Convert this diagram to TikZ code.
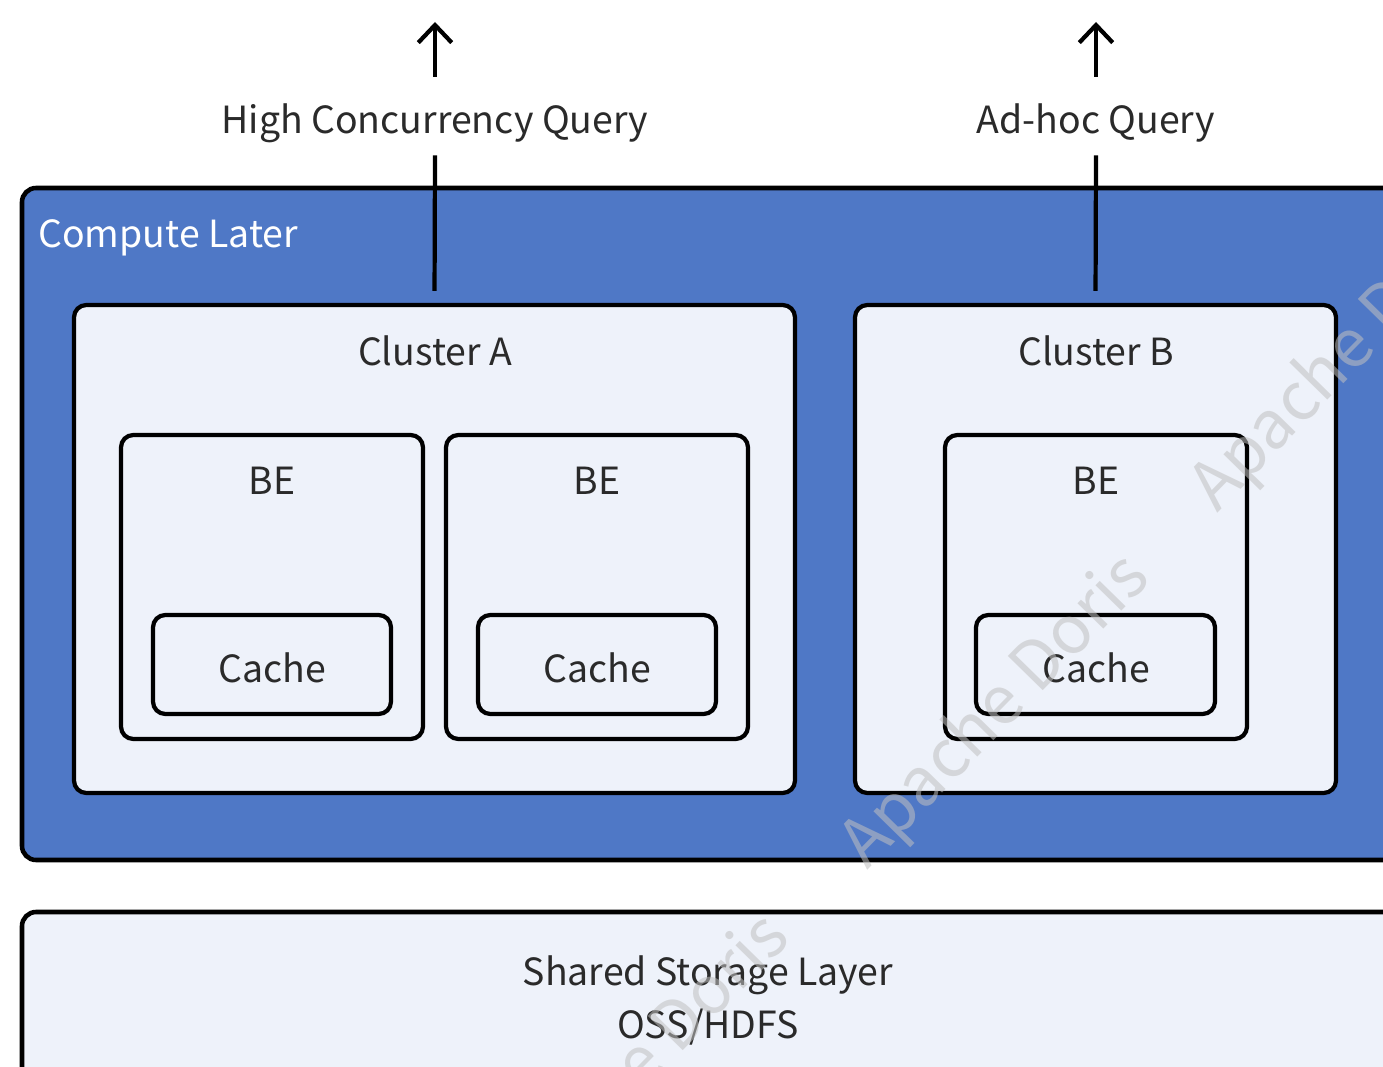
\documentclass[tikz,border=0pt]{standalone}
\usepackage{fontspec}
\setmainfont{Noto Sans CJK SC}
\usetikzlibrary{fit,arrows.meta}
\definecolor{computeblue}{HTML}{4F78C6}
\definecolor{paleblue}{HTML}{EEF2FA}
\definecolor{textgray}{HTML}{2A2A2A}
\definecolor{wmgray}{HTML}{C0C0C0}
\begin{document}
\begin{tikzpicture}[x=0.02cm,y=-0.02cm,
  outerbox/.style={draw=black, line width=2.6pt, rounded corners=8pt, inner sep=0pt},
  innerbox/.style={draw=black, line width=2.4pt, rounded corners=7pt, fill=paleblue, inner sep=0pt},
  txt/.style={text=textgray, font=\fontsize{21.3}{26}\selectfont, inner sep=0pt, anchor=base},
  qlabel/.style={text=textgray, font=\fontsize{21.3}{26}\selectfont, inner sep=0pt, anchor=base, text height=1.14cm, text depth=0.42cm},
  conn/.style={line width=2.4pt},
  uparrow/.style={line width=2.4pt, -{Straight Barb[length=10pt,width=19pt,line width=2.4pt]}},
  wm/.style={text=wmgray, opacity=0.55, font=\fontsize{38}{44}\selectfont, rotate=45.6, inner sep=0pt}]
\useasboundingbox (0,0) rectangle (1383,1067);
\clip (0,0) rectangle (1383,1067);
\fill[white] (0,0) rectangle (1383,1067);

% compute layer
\node[outerbox, fill=computeblue, fit={(22,188)(1410,860)}] (compute) {};
\node[txt, text=white, anchor=base west] (computelbl) at (38,248) {Compute Later};

% clusters
\node[innerbox, fit={(74,305)(795,793)}] (clA) {};
\node[txt] (clAlbl) at (435,366) {Cluster A};
\node[innerbox, fit={(855,305)(1336,793)}] (clB) {};
\node[txt] (clBlbl) at (1096,366) {Cluster B};

% BEs
\node[innerbox, fit={(121,435)(423,739)}] (be1) {};
\node[txt] (be1lbl) at (272,495) {BE};
\node[innerbox, fit={(446,435)(748,739)}] (be2) {};
\node[txt] (be2lbl) at (597,495) {BE};
\node[innerbox, fit={(945,435)(1247,739)}] (be3) {};
\node[txt] (be3lbl) at (1096,495) {BE};

% caches
\node[innerbox, fit={(153,615)(391,714)}] (ca1) {};
\node[txt] (ca1lbl) at (272,682) {Cache};
\node[innerbox, fit={(478,615)(716,714)}] (ca2) {};
\node[txt] (ca2lbl) at (597,682) {Cache};
\node[innerbox, fit={(976,615)(1215,714)}] (ca3) {};
\node[txt] (ca3lbl) at (1096,682) {Cache};

% storage
\node[outerbox, fill=paleblue, fit={(22,912)(1410,1100)}] (storage) {};
\node[txt] (st1) at (708,985) {Shared Storage Layer};
\node[txt] (st2) at (708,1038) {OSS/HDFS};

% queries
\node[qlabel] (hq) at (435,134) {High Concurrency Query};
\coordinate (hqtop) at (435,22);
\node[qlabel] (aq) at (1096,134) {Ad-hoc Query};
\coordinate (aqtop) at (1096,22);

\draw[conn, shorten <=6.8pt] (clA.north) -- (hq.south);
\draw[uparrow] (hq.north) -- (hqtop);
\draw[conn, shorten <=6.8pt] (clB.north) -- (aq.south);
\draw[uparrow] (aq.north) -- (aqtop);

% watermark
\node[wm] (wm1) at (996,712) {Apache Doris};
\node[wm] (wm2) at (1346,355) {Apache Doris};
\node[wm] (wm3) at (636,1072) {Apache Doris};
\end{tikzpicture}
\end{document}
